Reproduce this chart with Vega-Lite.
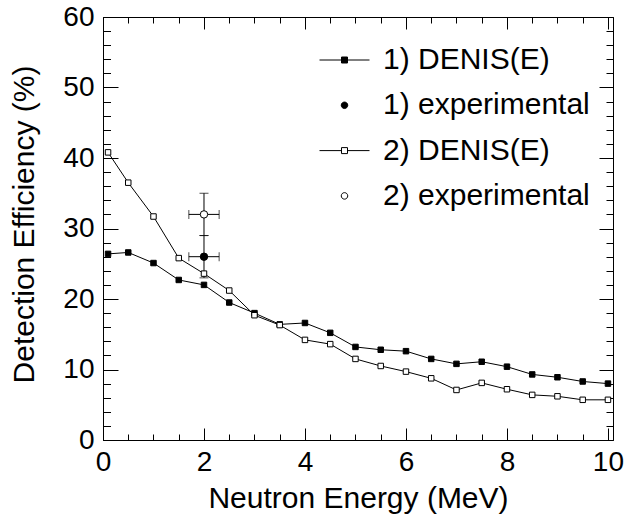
{
  "$schema": "https://vega.github.io/schema/vega-lite/v6.json",
  "width": 510,
  "height": 423,
  "autosize": {"type": "none"},
  "padding": {"left": 103, "top": 17, "right": 13, "bottom": 76},
  "background": "white",
  "config": {
    "view": {"stroke": "black", "strokeWidth": 1},
    "axis": {
      "domain": false, "grid": false, "tickColor": "black", "labelColor": "black", "titleColor": "black",
      "labelFont": "Liberation Sans", "titleFont": "Liberation Sans", "titleFontWeight": "normal",
      "labelFontSize": 28, "titleFontSize": 30, "tickWidth": 1, "labelFlush": false, "labelOverlap": false
    },
    "legend": {
      "orient": "none", "legendX": 216, "legendY": 28, "padding": 0, "symbolSize": 2500, "clipHeight": 30, "rowPadding": 15.3,
      "labelOffset": 13, "labelLimit": 400, "labelFontSize": 30, "labelFont": "Liberation Sans", "labelColor": "black",
      "symbolStrokeColor": "black", "symbolStrokeWidth": 1
    }
  },
  "datasets": {
    "denis": [
      {"series": "1", "label": "1) DENIS(E)", "E": 0.1, "eff": 26.4},
      {"series": "1", "label": "1) DENIS(E)", "E": 0.5, "eff": 26.6},
      {"series": "1", "label": "1) DENIS(E)", "E": 1.0, "eff": 25.1},
      {"series": "1", "label": "1) DENIS(E)", "E": 1.5, "eff": 22.7},
      {"series": "1", "label": "1) DENIS(E)", "E": 2.0, "eff": 22.0},
      {"series": "1", "label": "1) DENIS(E)", "E": 2.5, "eff": 19.5},
      {"series": "1", "label": "1) DENIS(E)", "E": 3.0, "eff": 18.0},
      {"series": "1", "label": "1) DENIS(E)", "E": 3.5, "eff": 16.4},
      {"series": "1", "label": "1) DENIS(E)", "E": 4.0, "eff": 16.6},
      {"series": "1", "label": "1) DENIS(E)", "E": 4.5, "eff": 15.2},
      {"series": "1", "label": "1) DENIS(E)", "E": 5.0, "eff": 13.2},
      {"series": "1", "label": "1) DENIS(E)", "E": 5.5, "eff": 12.8},
      {"series": "1", "label": "1) DENIS(E)", "E": 6.0, "eff": 12.6},
      {"series": "1", "label": "1) DENIS(E)", "E": 6.5, "eff": 11.5},
      {"series": "1", "label": "1) DENIS(E)", "E": 7.0, "eff": 10.8},
      {"series": "1", "label": "1) DENIS(E)", "E": 7.5, "eff": 11.1},
      {"series": "1", "label": "1) DENIS(E)", "E": 8.0, "eff": 10.4},
      {"series": "1", "label": "1) DENIS(E)", "E": 8.5, "eff": 9.3},
      {"series": "1", "label": "1) DENIS(E)", "E": 9.0, "eff": 8.9},
      {"series": "1", "label": "1) DENIS(E)", "E": 9.5, "eff": 8.3},
      {"series": "1", "label": "1) DENIS(E)", "E": 10.0, "eff": 8.0},
      {"series": "2", "label": "2) DENIS(E)", "E": 0.1, "eff": 40.8},
      {"series": "2", "label": "2) DENIS(E)", "E": 0.5, "eff": 36.5},
      {"series": "2", "label": "2) DENIS(E)", "E": 1.0, "eff": 31.7},
      {"series": "2", "label": "2) DENIS(E)", "E": 1.5, "eff": 25.8},
      {"series": "2", "label": "2) DENIS(E)", "E": 2.0, "eff": 23.6},
      {"series": "2", "label": "2) DENIS(E)", "E": 2.5, "eff": 21.2},
      {"series": "2", "label": "2) DENIS(E)", "E": 3.0, "eff": 17.7},
      {"series": "2", "label": "2) DENIS(E)", "E": 3.5, "eff": 16.3},
      {"series": "2", "label": "2) DENIS(E)", "E": 4.0, "eff": 14.2},
      {"series": "2", "label": "2) DENIS(E)", "E": 4.5, "eff": 13.6},
      {"series": "2", "label": "2) DENIS(E)", "E": 5.0, "eff": 11.5},
      {"series": "2", "label": "2) DENIS(E)", "E": 5.5, "eff": 10.5},
      {"series": "2", "label": "2) DENIS(E)", "E": 6.0, "eff": 9.7},
      {"series": "2", "label": "2) DENIS(E)", "E": 6.5, "eff": 8.75},
      {"series": "2", "label": "2) DENIS(E)", "E": 7.0, "eff": 7.1},
      {"series": "2", "label": "2) DENIS(E)", "E": 7.5, "eff": 8.1},
      {"series": "2", "label": "2) DENIS(E)", "E": 8.0, "eff": 7.2},
      {"series": "2", "label": "2) DENIS(E)", "E": 8.5, "eff": 6.4},
      {"series": "2", "label": "2) DENIS(E)", "E": 9.0, "eff": 6.2},
      {"series": "2", "label": "2) DENIS(E)", "E": 9.5, "eff": 5.7},
      {"series": "2", "label": "2) DENIS(E)", "E": 10.0, "eff": 5.7}
    ],
    "exp": [
      {"label": "1) experimental", "E": 2.0, "eff": 26.0, "exlo": 1.7, "exhi": 2.3, "eylo": 23.0, "eyhi": 29.0},
      {"label": "2) experimental", "E": 2.0, "eff": 32.0, "exlo": 1.7, "exhi": 2.3, "eylo": 29.0, "eyhi": 35.0}
    ]
  },
  "layer": [
    {
      "data": {"name": "exp"},
      "mark": {"type": "rule", "color": "black", "strokeWidth": 1},
      "encoding": {
        "x": {"field": "exlo", "type": "quantitative", "scale": {"domain": [0, 10.1], "nice": false, "zero": false},
              "axis": {"orient": "top", "values": [0, 2, 4, 6, 8, 10], "tickSize": -12, "labels": false, "title": null}},
        "x2": {"field": "exhi"},
        "y": {"field": "eff", "type": "quantitative", "scale": {"domain": [0, 60], "nice": false, "zero": false},
              "axis": {"orient": "right", "values": [0, 10, 20, 30, 40, 50, 60], "tickSize": -14, "labels": false, "title": null}}
      }
    },
    {
      "data": {"name": "exp"},
      "mark": {"type": "tick", "orient": "vertical", "color": "black", "size": 9, "thickness": 1},
      "encoding": {
        "x": {"field": "exlo", "type": "quantitative", "scale": {"domain": [0, 10.1], "nice": false, "zero": false},
              "axis": {"orient": "top", "values": [0, 0.5, 1, 1.5, 2, 2.5, 3, 3.5, 4, 4.5, 5, 5.5, 6, 6.5, 7, 7.5, 8, 8.5, 9, 9.5, 10], "tickSize": -6, "labels": false, "title": null}},
        "y": {"field": "eff", "type": "quantitative", "scale": {"domain": [0, 60], "nice": false, "zero": false},
              "axis": {"orient": "right", "values": [0, 2, 4, 6, 8, 10, 12, 14, 16, 18, 20, 22, 24, 26, 28, 30, 32, 34, 36, 38, 40, 42, 44, 46, 48, 50, 52, 54, 56, 58, 60], "tickSize": -7, "labels": false, "title": null}}
      }
    },
    {
      "data": {"name": "exp"},
      "mark": {"type": "tick", "orient": "vertical", "color": "black", "size": 9, "thickness": 1},
      "encoding": {
        "x": {"field": "exhi", "type": "quantitative", "scale": {"domain": [0, 10.1], "nice": false, "zero": false}, "axis": null},
        "y": {"field": "eff", "type": "quantitative", "scale": {"domain": [0, 60], "nice": false, "zero": false}, "axis": null}
      }
    },
    {
      "data": {"name": "exp"},
      "mark": {"type": "rule", "color": "black", "strokeWidth": 1},
      "encoding": {
        "x": {"field": "E", "type": "quantitative", "scale": {"domain": [0, 10.1], "nice": false, "zero": false}, "axis": null},
        "y": {"field": "eylo", "type": "quantitative", "scale": {"domain": [0, 60], "nice": false, "zero": false}, "axis": null},
        "y2": {"field": "eyhi"}
      }
    },
    {
      "data": {"name": "exp"},
      "mark": {"type": "tick", "orient": "horizontal", "color": "black", "size": 9, "thickness": 1},
      "encoding": {
        "x": {"field": "E", "type": "quantitative", "scale": {"domain": [0, 10.1], "nice": false, "zero": false}, "axis": null},
        "y": {"field": "eylo", "type": "quantitative", "scale": {"domain": [0, 60], "nice": false, "zero": false}, "axis": null}
      }
    },
    {
      "data": {"name": "exp"},
      "mark": {"type": "tick", "orient": "horizontal", "color": "black", "size": 9, "thickness": 1},
      "encoding": {
        "x": {"field": "E", "type": "quantitative", "scale": {"domain": [0, 10.1], "nice": false, "zero": false}, "axis": null},
        "y": {"field": "eyhi", "type": "quantitative", "scale": {"domain": [0, 60], "nice": false, "zero": false}, "axis": null}
      }
    },
    {
      "data": {"name": "denis"},
      "mark": {"type": "line", "color": "black", "strokeWidth": 1},
      "encoding": {
        "x": {"field": "E", "type": "quantitative", "scale": {"domain": [0, 10.1], "nice": false, "zero": false},
              "axis": {"orient": "bottom", "values": [0, 2, 4, 6, 8, 10], "tickSize": -12, "labelPadding": 20, "title": "Neutron Energy (MeV)", "titleBaseline": "alphabetic", "titleX": 255, "titleY": 67}},
        "y": {"field": "eff", "type": "quantitative", "scale": {"domain": [0, 60], "nice": false, "zero": false},
              "axis": {"orient": "left", "values": [0, 10, 20, 30, 40, 50, 60], "tickSize": -15, "labelPadding": 24, "title": "Detection Efficiency (%)", "titleBaseline": "alphabetic", "titleAngle": -90, "titleX": -69.5, "titleY": 207}},
        "detail": {"field": "series", "type": "nominal"}
      }
    },
    {
      "data": {"name": "denis"},
      "mark": {"type": "point", "shape": "square", "stroke": "black", "strokeWidth": 1, "opacity": 1, "size": 30},
      "encoding": {
        "x": {"field": "E", "type": "quantitative", "scale": {"domain": [0, 10.1], "nice": false, "zero": false},
              "axis": {"orient": "bottom", "values": [0, 0.5, 1, 1.5, 2, 2.5, 3, 3.5, 4, 4.5, 5, 5.5, 6, 6.5, 7, 7.5, 8, 8.5, 9, 9.5, 10], "tickSize": -6, "labels": false, "title": null}},
        "y": {"field": "eff", "type": "quantitative", "scale": {"domain": [0, 60], "nice": false, "zero": false},
              "axis": {"orient": "left", "values": [0, 2, 4, 6, 8, 10, 12, 14, 16, 18, 20, 22, 24, 26, 28, 30, 32, 34, 36, 38, 40, 42, 44, 46, 48, 50, 52, 54, 56, 58, 60], "tickSize": -7.5, "labels": false, "title": null}},
        "fill": {"condition": {"test": "datum.series == '1'", "value": "black"}, "value": "white"}
      }
    },
    {
      "data": {"name": "exp"},
      "mark": {"type": "point", "shape": "circle", "stroke": "black", "strokeWidth": 1, "opacity": 1, "size": 55},
      "encoding": {
        "x": {"field": "E", "type": "quantitative", "scale": {"domain": [0, 10.1], "nice": false, "zero": false}, "axis": null},
        "y": {"field": "eff", "type": "quantitative", "scale": {"domain": [0, 60], "nice": false, "zero": false}, "axis": null},
        "fill": {"condition": {"test": "datum.label == '1) experimental'", "value": "black"}, "value": "white"}
      }
    },
    {
      "data": {"name": "exp"},
      "transform": [{"filter": "datum.E > 100"}],
      "mark": {"type": "point", "strokeWidth": 1, "opacity": 1},
      "encoding": {
        "x": {"field": "E", "type": "quantitative", "scale": {"domain": [0, 10.1], "nice": false, "zero": false}, "axis": null},
        "y": {"field": "eff", "type": "quantitative", "scale": {"domain": [0, 60], "nice": false, "zero": false}, "axis": null},
        "shape": {"field": "label", "type": "nominal",
                  "scale": {"domain": ["1) DENIS(E)", "1) experimental", "2) DENIS(E)", "2) experimental"],
                            "range": ["M-1,0H-0.12M0.12,0H1M-0.12,-0.12H0.12V0.12H-0.12Z", "M-0.13,0A0.13,0.13,0,1,0,0.13,0A0.13,0.13,0,1,0,-0.13,0Z", "M-1,0H-0.12M0.12,0H1M-0.12,-0.12H0.12V0.12H-0.12Z", "M-0.13,0A0.13,0.13,0,1,0,0.13,0A0.13,0.13,0,1,0,-0.13,0Z"]},
                  "legend": {"title": null}},
        "fill": {"field": "label", "type": "nominal",
                 "scale": {"domain": ["1) DENIS(E)", "1) experimental", "2) DENIS(E)", "2) experimental"], "range": ["black", "black", "white", "white"]},
                 "legend": {"title": null}},
        "stroke": {"field": "label", "type": "nominal",
                   "scale": {"domain": ["1) DENIS(E)", "1) experimental", "2) DENIS(E)", "2) experimental"], "range": ["black", "black", "black", "black"]},
                   "legend": {"title": null}}
      }
    }
  ],
  "resolve": {"axis": {"x": "independent", "y": "independent"}}
}
